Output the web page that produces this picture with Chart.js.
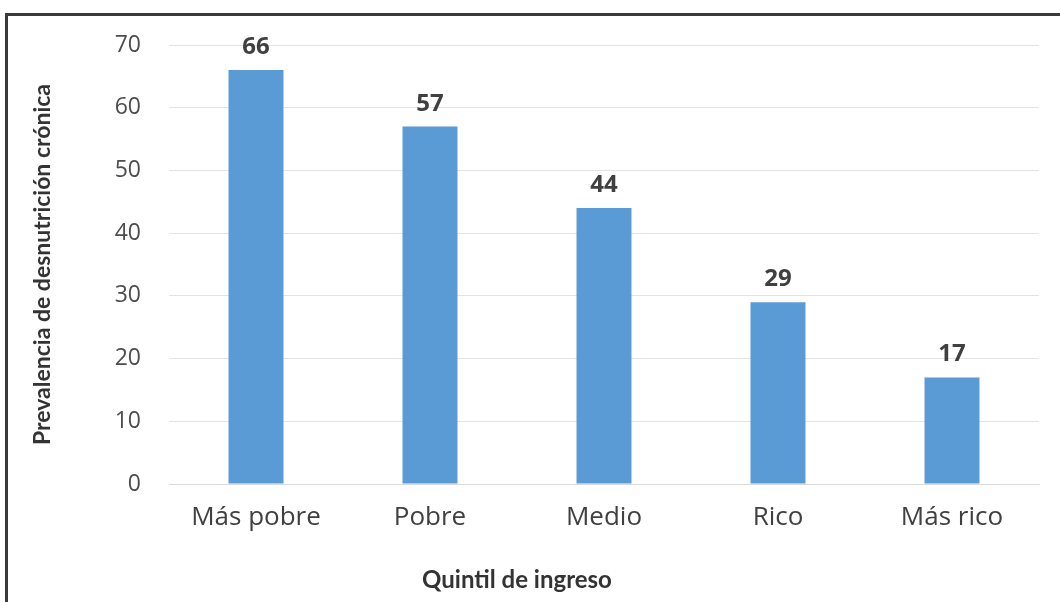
<!DOCTYPE html>
<html>
<head>
<meta charset="utf-8">
<script src="https://cdn.jsdelivr.net/npm/chart.js@4"></script>
<style>
  html, body { margin: 0; padding: 0; background: #fff; }
  #wrap { position: relative; width: 1060px; height: 602px; }
  #marco {
    position: absolute; left: 5px; top: 13px; right: 0; bottom: 0;
    border-left: 3px solid #3a3a3a; border-top: 3px solid #3a3a3a;
    pointer-events: none;
  }
</style>
</head>
<body>
<div id="wrap">
  <canvas id="grafico" width="1060" height="602"></canvas>
  <div id="marco"></div>
</div>
<script>
// datos
const quintiles = ['Más pobre', 'Pobre', 'Medio', 'Rico', 'Más rico'];
const prevalencia = [66, 57, 44, 29, 17];
const ticksY = [0, 10, 20, 30, 40, 50, 60, 70];
const tituloY = 'Prevalencia de desnutrición crónica';
const tituloX = 'Quintil de ingreso';

// etiquetas de valor encima de cada barra
const etiquetasBarras = {
    id: 'etiquetasBarras',
    afterDatasetsDraw(chart) {
        const ctx = chart.ctx;
        const meta = chart.getDatasetMeta(0);
        ctx.save();
        ctx.font = 'bold 24px "Open Sans"';
        ctx.fillStyle = '#404040';
        ctx.textAlign = 'center';
        ctx.textBaseline = 'alphabetic';
        meta.data.forEach((bar, i) => {
            ctx.fillText(String(prevalencia[i]), bar.x, bar.y - 16);
        });
        ctx.restore();
    }
};

// titulo del eje x, un poco a la izquierda del centro como en el original
const tituloEjeX = {
    id: 'tituloEjeX',
    afterDraw(chart) {
        const x = chart.scales.x;
        const ctx = chart.ctx;
        ctx.save();
        ctx.font = 'bold 24px Lato';
        ctx.fillStyle = '#333333';
        ctx.textAlign = 'center';
        ctx.textBaseline = 'middle';
        ctx.fillText(tituloX, x.left + (x.right - x.left) * 0.4, x.bottom - 22);
        ctx.restore();
    }
};

const ctx = document.getElementById('grafico').getContext('2d');
new Chart(ctx, {
    type: 'bar',
    data: {
        labels: quintiles,
        datasets: [{
            data: prevalencia,
            backgroundColor: '#5b9bd5',
            borderWidth: 0,
            categoryPercentage: 1,
            barPercentage: 0.316
        }]
    },
    options: {
        responsive: false,
        animation: false,
        layout: { padding: { left: 0, right: 21, top: 45, bottom: 0 } },
        plugins: {
            legend: { display: false },
            tooltip: { enabled: false }
        },
        scales: {
            x: {
                grid: { display: false, drawTicks: false },
                border: { display: true, color: '#d9d9d9', width: 1 },
                ticks: {
                    color: '#404040',
                    font: { family: '"Open Sans"', size: 26 },
                    padding: 18,
                    maxRotation: 0
                },
                afterFit(scale) { scale.height = 118; }
            },
            y: {
                min: 0,
                max: 70,
                afterBuildTicks(scale) { scale.ticks = ticksY.map(v => ({ value: v })); },
                grid: { color: '#e3e3e3', drawTicks: false },
                border: { display: false },
                ticks: {
                    color: '#4d4d4d',
                    font: { family: '"Open Sans"', size: 23 },
                    padding: 28
                },
                title: {
                    display: true,
                    text: tituloY,
                    color: '#333333',
                    font: { family: 'Lato', size: 23, weight: 'bold' },
                    padding: { top: 29, bottom: 0 }
                },
                afterFit(scale) { scale.width = 169; }
            }
        }
    },
    plugins: [etiquetasBarras, tituloEjeX]
});
</script>
</body>
</html>
